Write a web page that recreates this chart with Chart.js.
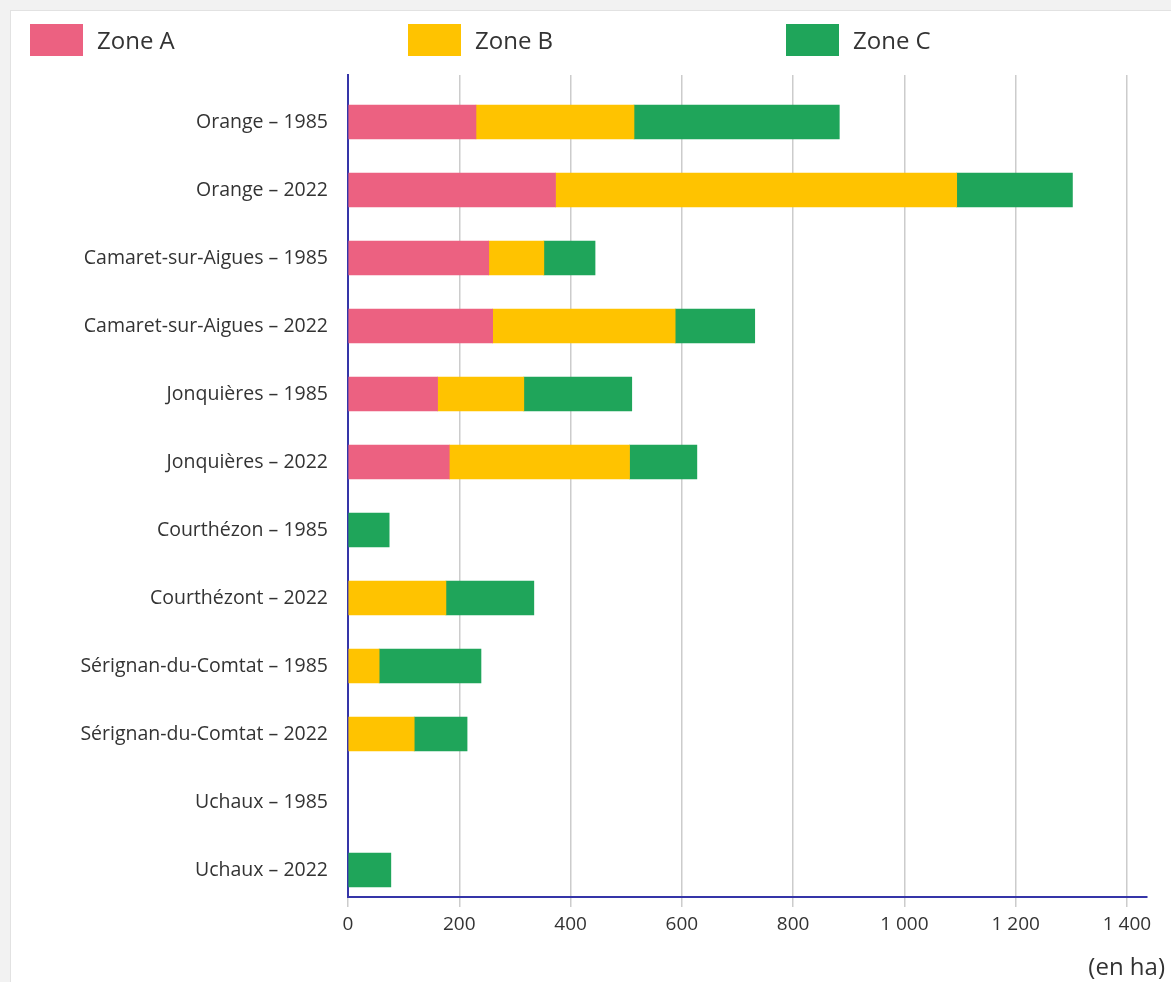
<!DOCTYPE html>
<html lang="fr">
<head>
<meta charset="utf-8">
<title>Zones par commune</title>
<script src="https://cdn.jsdelivr.net/npm/chart.js@4/dist/chart.umd.min.js"></script>
<style>
    body {
        margin: 0;
        background: #f2f2f2;
        overflow: hidden;
        font-family: "Open Sans", sans-serif;
    }
    .card {
        position: absolute;
        left: 10px;
        top: 10px;
        width: 1180px;
        height: 990px;
        background: #fff;
        border: 1px solid #e2e2e2;
    }
    .chart-wrap {
        position: absolute;
        left: 0;
        top: 0;
        width: 1171px;
        height: 982px;
    }
    .legend {
        position: absolute;
        left: 30px;
        top: 23px;
        display: flex;
    }
    .legend-item {
        width: 378px;
        display: flex;
        align-items: center;
        font-size: 24px;
        color: #333;
    }
    .legend-box {
        width: 53px;
        height: 32px;
        margin-right: 14px;
    }
</style>
</head>
<body>
<div class="card"></div>
<div class="chart-wrap">
    <canvas id="zoneChart"></canvas>
</div>
<div class="legend" id="legend"></div>

<script>
// Surfaces par zone (en ha), null = pas de surface
const categories = [
    "Orange – 1985", "Orange – 2022",
    "Camaret-sur-Aigues – 1985", "Camaret-sur-Aigues – 2022",
    "Jonquières – 1985", "Jonquières – 2022",
    "Courthézon – 1985", "Courthézont – 2022",
    "Sérignan-du-Comtat – 1985", "Sérignan-du-Comtat – 2022",
    "Uchaux – 1985", "Uchaux – 2022"
];
const zoneA = [230, 373, 253, 260, 161, 182, null, null, null, null, null, null];
const zoneB = [284, 721, 99, 328, 155, 324, null, 176, 56, 119, null, null];
const zoneC = [369, 208, 92, 143, 194, 121, 74, 158, 183, 95, null, 77];
const xTicks = [0, 200, 400, 600, 800, 1000, 1200, 1400];

const axisColor = "#3535a8";
const textColor = "#333";

function toPoints(values) {
    return values.map((v, i) => ({ x: v, y: i }));
}

function frNumber(v) {
    return String(v).replace(/\B(?=(\d{3})+(?!\d))/g, " ");
}

// "(en ha)" under the x axis, right side
const unitLabel = {
    id: "unitLabel",
    afterDraw(chart) {
        const { ctx, scales: { x } } = chart;
        ctx.save();
        ctx.font = '24px "Open Sans", sans-serif';
        ctx.fillStyle = textColor;
        ctx.textAlign = "right";
        ctx.textBaseline = "middle";
        ctx.fillText("(en ha)", x.right + 18, x.bottom - 14);
        ctx.restore();
    }
};

Chart.defaults.font.family = '"Open Sans", sans-serif';
Chart.defaults.color = textColor;

const ctx = document.getElementById("zoneChart").getContext("2d");
const chart = new Chart(ctx, {
    type: "bar",
    data: {
        datasets: [
            { label: "Zone A", data: toPoints(zoneA), backgroundColor: "#ec6181" },
            { label: "Zone B", data: toPoints(zoneB), backgroundColor: "#ffc300" },
            { label: "Zone C", data: toPoints(zoneC), backgroundColor: "#1fa55a" }
        ]
    },
    options: {
        indexAxis: "y",
        responsive: true,
        maintainAspectRatio: false,
        animation: false,
        barThickness: 34,
        borderWidth: 0,
        layout: { padding: { top: 75, right: 24, bottom: 0, left: 0 } },
        plugins: {
            legend: { display: false },
            tooltip: { enabled: true }
        },
        scales: {
            y: {
                type: "linear",
                reverse: true,
                stacked: true,
                offset: false,
                min: -0.691,
                max: 11.397,
                afterBuildTicks: (scale) => {
                    scale.ticks = categories.map((c, i) => ({ value: i }));
                },
                afterFit: (scale) => { scale.width = 348; },
                ticks: {
                    callback: (v) => categories[v],
                    font: { size: 19.5 },
                    color: textColor,
                    padding: 20
                },
                grid: { display: false, drawTicks: false, offset: false },
                border: { color: axisColor, width: 2 }
            },
            x: {
                type: "linear",
                stacked: true,
                min: 0,
                max: 1436,
                afterBuildTicks: (scale) => {
                    scale.ticks = xTicks.map((v) => ({ value: v }));
                },
                afterFit: (scale) => { scale.height = 85; },
                ticks: {
                    callback: (v) => frNumber(v),
                    font: { size: 19 },
                    color: textColor,
                    padding: 6
                },
                grid: { color: "#cccccc", lineWidth: 1.5, tickLength: 10, drawTicks: true },
                border: { color: axisColor, width: 2 }
            }
        }
    },
    plugins: [unitLabel]
});

// HTML legend from the datasets
const legendEl = document.getElementById("legend");
chart.data.datasets.forEach((ds) => {
    const item = document.createElement("div");
    item.className = "legend-item";
    const box = document.createElement("span");
    box.className = "legend-box";
    box.style.background = ds.backgroundColor;
    const label = document.createElement("span");
    label.textContent = ds.label;
    item.appendChild(box);
    item.appendChild(label);
    legendEl.appendChild(item);
});
</script>
</body>
</html>
